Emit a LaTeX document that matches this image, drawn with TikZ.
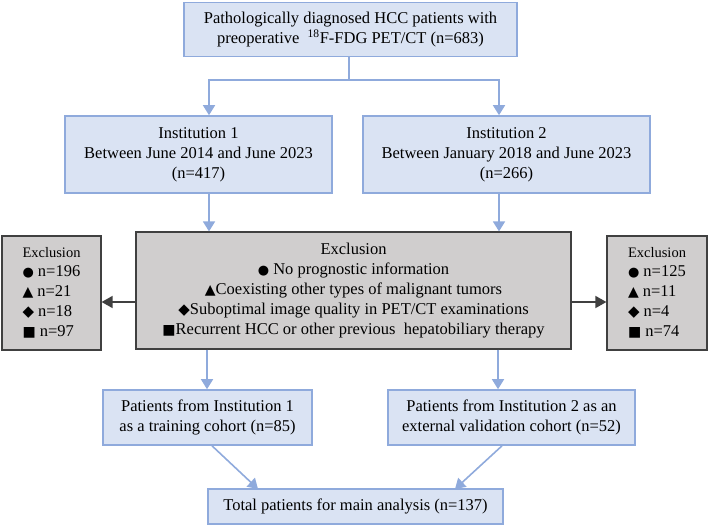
\documentclass[tikz,border=0pt]{standalone}
\usepackage{fontspec}
\setmainfont{Liberation Serif}
\newfontfamily\symfont{DejaVu Sans}
\usetikzlibrary{arrows.meta}
\definecolor{bfill}{HTML}{DAE3F3}
\definecolor{bline}{HTML}{8FAADC}
\definecolor{gfill}{HTML}{D0CECE}
\definecolor{gline}{HTML}{404040}
\newcommand{\symCirc}{{\symfont\fontsize{13}{13}\selectfont ●}}
\newcommand{\symTri}{{\symfont\fontsize{14}{14}\selectfont ▲}}
\newcommand{\symDia}{{\symfont\fontsize{15}{15}\selectfont ◆}}
\newcommand{\symSq}{{\symfont\fontsize{14}{14}\selectfont ■}}
\tikzset{
  bbox/.style={draw=bline, fill=bfill, line width=1.6pt, align=center, inner sep=0pt,
    font=\fontsize{16.5}{20}\selectfont},
  gbox/.style={draw=gline, fill=gfill, line width=1.2pt, align=center, inner sep=0pt,
    font=\fontsize{16.5}{20}\selectfont},
  barrow/.style={draw=bline, line width=1.6pt, -{Triangle[width=12pt,length=10pt]}},
  garrow/.style={draw=gline, line width=1.6pt, -{Triangle[width=12pt,length=11pt]}},
  bline/.style={draw=bline, line width=1.6pt}
}
\begin{document}
\begin{tikzpicture}[x=1pt,y=-1pt]
\useasboundingbox (0,0) rectangle (708,527);

\node[bbox, minimum width=333pt, minimum height=54pt] (top) at (350.5,29.5)
  {Pathologically diagnosed HCC patients with\\preoperative\ \ \textsuperscript{18}F-FDG PET/CT (n=683)};
\node[bbox, minimum width=267pt, minimum height=77pt] (inst1) at (198.5,154.5)
  {Institution 1\\Between June 2014 and June 2023\\(n=417)};
\node[bbox, minimum width=287pt, minimum height=77pt] (inst2) at (506.5,154.5)
  {Institution 2\\Between January 2018 and June 2023\\(n=266)};
\node[gbox, minimum width=435pt, minimum height=117pt] (excl) at (353.5,290.5)
  {Exclusion\\ \symCirc\ No prognostic information\\ \symTri Coexisting other types of malignant tumors\\
   \symDia Suboptimal image quality in PET/CT examinations\\ \symSq Recurrent HCC or other previous\ \ hepatobiliary therapy};
\node[gbox, minimum width=99pt, minimum height=114pt] (exL) at (51.5,293)
  {\begin{tabular}{@{}l@{}}\multicolumn{1}{@{}c@{}}{\fontsize{14.5}{20}\selectfont Exclusion}\\[-1pt]
   \symCirc\ n=196\\ \symTri\ n=21\\ \symDia\ n=18\\ \symSq\ n=97\end{tabular}};
\node[gbox, minimum width=100pt, minimum height=114pt] (exR) at (657,293)
  {\begin{tabular}{@{}l@{}}\multicolumn{1}{@{}c@{}}{\fontsize{14.5}{20}\selectfont Exclusion}\\[-1pt]
   \symCirc\ n=125\\ \symTri\ n=11\\ \symDia\ n=4\\ \symSq\ n=74\end{tabular}};
\node[bbox, minimum width=209pt, minimum height=55pt] (p1) at (207.5,417.5)
  {Patients from Institution 1\\as a training cohort (n=85)};
\node[bbox, minimum width=247pt, minimum height=55pt] (p2) at (511.5,417.5)
  {Patients from Institution 2 as an\\external validation cohort (n=52)};
\node[bbox, minimum width=295pt, minimum height=35pt] (total) at (355.5,506.5)
  {Total patients for main analysis (n=137)};

\coordinate (split) at (349,80);
\coordinate (splitL) at (209,80);
\coordinate (splitR) at (499,80);
\draw[bline] (top.south -| split) -- (split);
\draw[barrow] (split) -- (splitL) -- (splitL |- inst1.north);
\draw[barrow] (split) -- (splitR) -- (splitR |- inst2.north);
\draw[barrow] (inst1.south -| splitL) -- (splitL |- excl.north);
\draw[barrow] (inst2.south -| splitR) -- (splitR |- excl.north);
\coordinate (dL) at (207,0);
\coordinate (dR) at (498,0);
\draw[barrow] (excl.south -| dL) -- (dL |- p1.north);
\draw[barrow] (excl.south -| dR) -- (dR |- p2.north);
\coordinate (t1) at (258,489);
\coordinate (t2) at (455,489);
\draw[barrow] (p1.south -| 212,0) -- (t1);
\draw[barrow] (p2.south -| 502,0) -- (t2);
\coordinate (ay) at (0,302);
\draw[garrow] (excl.west |- ay) -- (exL.east |- ay);
\draw[garrow] (excl.east |- ay) -- (exR.west |- ay);
\end{tikzpicture}
\end{document}
